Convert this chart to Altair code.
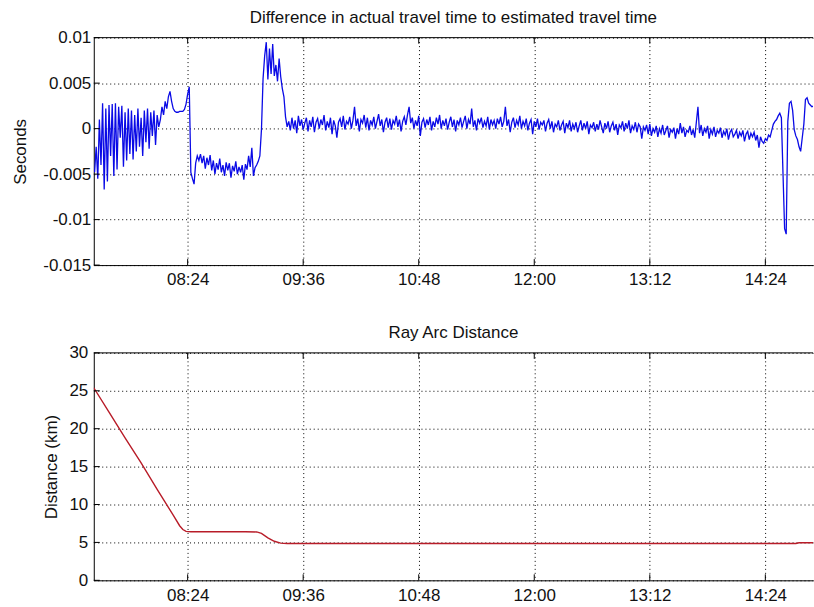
import altair as alt
import pandas as pd

# ---------------- data ----------------
# Top panel: difference in travel time, in units of 1e-4 s, one sample per minute from 07:26
diff_start = 446  # minutes after midnight (07:26)
diff_vals_1e4 = [
    # 07:26 - 08:06
    -48, -20, -55, 10, -40, 28, -67, 22, -58, 26,
    -30, 27, -52, 28, -45, 24, -10, 25, -42, 18,
    -35, 22, -28, 20, -34, 15, -25, 22, -20, 12,
    -30, 20, -15, 22, -22, 18, -8, 20, -18, 15,
    2,
    # 08:07 - 08:29
    10, 24, 15, 30, 22, 35, 41, 30, 22, 19,
    18, 18, 19, 19, 19, 21, 27, 38, 46, -48,
    -55, -61, -38,
    # 08:30 - 09:26
    -30, -35, -28, -38, -30, -44, -32, -40, -29, -46,
    -35, -50, -38, -45, -33, -48, -40, -52, -37, -46,
    -38, -54, -41, -47, -36, -50, -42, -48, -40, -56,
    -39, -45, -30, -42, -21, -52, -43, -40, -36, -30,
    -1, 55, 80, 95, 54, 88, 60, 93, 58, 70,
    52, 77, 57, 44, 35, 13, 2,
    # 09:27 - 14:26
    8, -2, 12, 0, 9, -5, 14, 3, 10, -1,
    6, 12, -3, 9, 2, 13, -4, 7, 11, 0,
    10, 4, 15, -2, 8, 1, 12, -6, 9, 3,
    -10, 7, 11, 2, 14, -1, 8, 5, 13, 0,
    9, 24, 3, 11, -3, 10, 6, 15, 1, 12,
    -2, 9, 4, 13, 0, 8, 16, 3, 10, -4,
    7, 12, 1, 11, -1, 9, 5, 14, 2, 10,
    -3, 8, 13, 4, 15, 24, 6, 12, 0, 9,
    3, 14, -8, 7, 11, 1, 10, 4, 13, -2,
    8, 2, 12, 5, 15, 0, 9, 3, 11, -1,
    7, 13, 2, 10, -3, 9, 4, 12, 1, 8,
    14, 0, 10, 5, 22, 2, 9, -2, 11, 6,
    12, 1, 8, 3, 13, -1, 10, 4, 9, 0,
    11, 5, 13, 2, 8, 24, 3, 10, -4, 7,
    12, 1, 9, 4, 14, 0, 8, 3, 11, -2,
    6, 10, -6, 8, 2, 11, -1, 7, 4, 9,
    -3, 6, 10, 0, 8, -4, 5, 2, 9, -2,
    4, 8, -5, 6, 1, 9, -3, 5, 0, 7,
    -4, 3, 9, -2, 6, 0, 8, -6, 4, 1,
    7, -3, 5, -1, 9, 2, -5, 6, 0, 8,
    -4, 3, 7, -2, 5, -7, 4, 1, 8, -3,
    6, 0, 9, -5, 3, -1, 7, -4, 5, 2,
    -11, 2, -2, 4, -6, 5, -8, 0, -4, 3,
    -9, 0, -5, 4, -7, -2, 3, -10, -1, -4,
    1, -11, 0, -6, 6, -5, 2, -9, -2, -4,
    3, -7, -1, -10, 7, 24, -5, 4, -8, 0,
    -4, 3, -11, -1, -6, 2, -9, -2, -5, 1,
    -10, -3, -7, 0, -12, -4, -1, -9, -6, -2,
    -11, -4, -8, -2, -14, -6, -3, -12, -5, -9,
    -4, -13, -7, -21, -9, -14, -16, -11, -13, -7,
    # 14:27 - 14:54
    -9, -2, 5, 8, 10, 14, 17, 12, -49, -110,
    -116, 8, 28, 30, 20, -1, -8, -12, -20, -25,
    -10, 5, 32, 34, 28, 26, 24, 25,
]

# Bottom panel: ray arc distance (km) at read-off times (minutes after midnight)
ray_min = [445.5, 455, 465, 475, 485, 495, 499, 501, 503, 506, 520, 540,
           547, 550, 554, 558, 562, 566, 620, 700, 800, 883, 885, 893.7]
ray_km = [25.4, 22.2, 18.8, 15.5, 12.0, 8.6, 7.2, 6.7, 6.45, 6.4, 6.4, 6.4,
          6.38, 6.2, 5.6, 5.15, 4.9, 4.85, 4.85, 4.85, 4.85, 4.85, 4.95, 4.95]

x_ticks = [504, 576, 648, 720, 792, 864]          # 08:24 ... 14:24
y_ticks_top = [-0.015, -0.01, -0.005, 0, 0.005, 0.01]
y_ticks_bot = [0, 5, 10, 15, 20, 25, 30]

X_DOMAIN = [445.5, 893.7]
W, H = 721, 228
FONT = "Liberation Sans"
FS = 17

diff_df = pd.DataFrame({
    "m": [diff_start + i for i in range(len(diff_vals_1e4))],
    "v": [v * 1e-4 for v in diff_vals_1e4],
})
ray_df = pd.DataFrame({"m": ray_min, "v": ray_km})


def panel(df, ydomain, yticks, ytitle, title, color, sw, title_x, ylabel_pad, xlabel_pad):
    x_enc = alt.X(
        "m:Q",
        scale=alt.Scale(domain=X_DOMAIN, nice=False, zero=False),
        axis=alt.Axis(
            values=x_ticks, title=None,
            labelExpr="utcFormat(datum.value * 60000, '%H:%M')",
            grid=True, gridColor="black", gridDash=[1, 3], gridOpacity=1, gridWidth=1,
            ticks=False, domain=True, domainColor="black", domainWidth=1,
            labelFont=FONT, labelFontSize=FS, labelColor="#111", labelPadding=xlabel_pad,
            labelFlush=False, labelOverlap=False,
        ),
    )
    y_enc = alt.Y(
        "v:Q",
        scale=alt.Scale(domain=ydomain, nice=False, zero=False),
        axis=alt.Axis(
            values=yticks, title=ytitle, labelExpr="toString(datum.value)",
            grid=True, gridColor="black", gridDash=[1, 3], gridOpacity=1, gridWidth=1,
            ticks=False, domain=True, domainColor="black", domainWidth=1,
            labelFont=FONT, labelFontSize=FS, labelColor="#111", labelPadding=ylabel_pad,
            labelFlush=False, labelOverlap=False,
            titleFont=FONT, titleFontSize=FS, titleFontWeight="normal", titleColor="#111",
            titleX=title_x, titleY=H / 2, titleAngle=270, titleAlign="center",
            titleBaseline="middle",
        ),
    )
    line = alt.Chart(df).mark_line(color=color, strokeWidth=sw, clip=True).encode(x=x_enc, y=y_enc)

    top_border = alt.Chart(pd.DataFrame({"k": [0]})).mark_rule(color="black", strokeWidth=1).encode(
        x=alt.value(0), x2=alt.value(W), y=alt.value(0)
    )
    xt = pd.DataFrame({"m": x_ticks})
    bottom_ticks = alt.Chart(xt).mark_rule(color="black").encode(
        x=x_enc, y=alt.value(H), y2=alt.value(H - 6)
    )
    top_ticks = alt.Chart(xt).mark_rule(color="black").encode(
        x=x_enc, y=alt.value(0), y2=alt.value(6)
    )
    yt = pd.DataFrame({"v": yticks})
    left_ticks = alt.Chart(yt).mark_rule(color="black").encode(
        y=y_enc, x=alt.value(0), x2=alt.value(6)
    )
    return alt.layer(line, top_border, bottom_ticks, top_ticks, left_ticks).properties(
        width=W, height=H,
        title=alt.TitleParams(title, font=FONT, fontSize=FS, fontWeight="normal", color="#111",
                              anchor="middle", offset=2),
    )


top = panel(diff_df, [-0.015, 0.01], y_ticks_top, "Seconds",
            "Difference in actual travel time to estimated travel time",
            "#0a0ae6", 1.3, -73, 3, 6)
bottom = panel(ray_df, [0, 30], y_ticks_bot, "Distance (km)", "Ray Arc Distance",
               "#b81c28", 1.4, -42, 6, 7)

chart = alt.vconcat(top, bottom, spacing=37).properties(
    padding={"left": 12, "top": 8, "right": 0, "bottom": 0},
    background="white",
).configure_view(stroke=None)

chart.save("out.html", embed_options={"renderer": "svg", "actions": False})
